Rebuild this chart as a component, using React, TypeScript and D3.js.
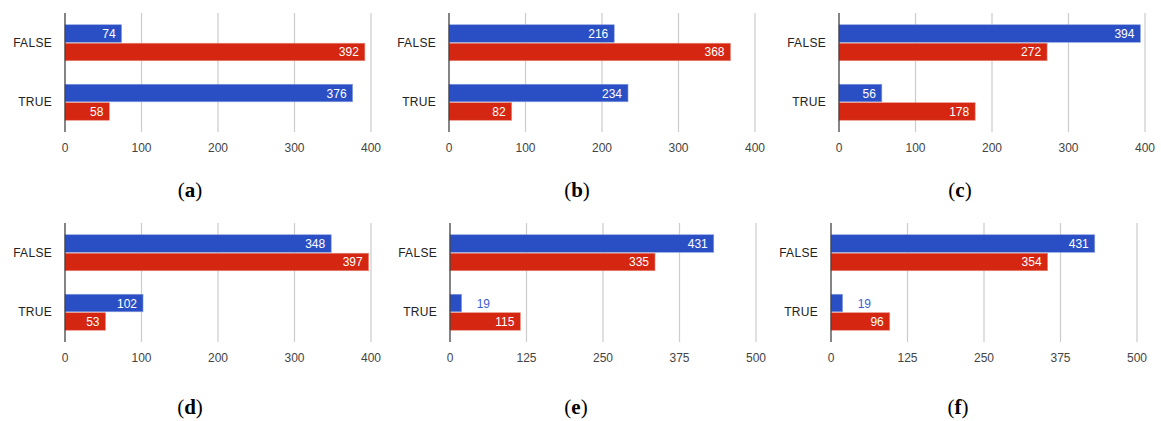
import React from "react";
import * as d3 from "d3";

const categories = ["FALSE", "TRUE"];
const seriesNames = ["blue", "red"];
const panelLabels = ["a", "b", "c", "d", "e", "f"];

// values per panel, indexed by category
const blueValues = [
  [74, 376],
  [216, 234],
  [394, 56],
  [348, 102],
  [431, 19],
  [431, 19],
];
const redValues = [
  [392, 58],
  [368, 82],
  [272, 178],
  [397, 53],
  [335, 115],
  [354, 96],
];
const ticksSmall = [0, 100, 200, 300, 400];
const ticksLarge = [0, 125, 250, 375, 500];
const panelTicks = [ticksSmall, ticksSmall, ticksSmall, ticksSmall, ticksLarge, ticksLarge];

// layout
const W = 1161;
const H = 421;
const plotW = 306;
const plotH = 119;
const originsX = [65, 449, 839, 65, 450, 831];
const rowTops = [13, 13, 13, 223, 223, 223];
const captionX = [190, 577, 960, 190, 576, 958];
const captionY = [197, 197, 197, 414, 414, 414];

const BLUE = "#2a4fc5";
const RED = "#d42611";
const font = "'Liberation Sans', Arial, sans-serif";

const Panel = ({ idx }: { idx: number }) => {
  const ticks = panelTicks[idx];
  const x0 = originsX[idx];
  const top = rowTops[idx];
  const x = d3.scaleLinear().domain([0, ticks[ticks.length - 1]]).range([x0, x0 + plotW]);
  const y = d3
    .scaleBand<string>()
    .domain(categories)
    .range([top, top + plotH])
    .paddingInner(0.395)
    .paddingOuter(0.1975);
  const ySub = d3.scaleBand<string>().domain(seriesNames).range([0, y.bandwidth()]).paddingInner(0.05);
  const series = [blueValues[idx], redValues[idx]];
  const colors = [BLUE, RED];

  return (
    <g>
      {ticks.map((t) => (
        <g key={t}>
          {t !== 0 && (
            <line x1={x(t)} x2={x(t)} y1={top} y2={top + plotH} stroke="#cccccc" strokeWidth={1.2} />
          )}
          <text x={x(t)} y={top + plotH + 20} textAnchor="middle" fontSize={12} fill="#444" fontFamily={font}>
            {t}
          </text>
        </g>
      ))}
      {categories.map((c, ci) => (
        <g key={c}>
          <text
            x={x0 - 13}
            y={(y(c) as number) + y.bandwidth() / 2 + 4}
            textAnchor="end"
            fontSize={12}
            fill="#222"
            fontFamily={font}
            letterSpacing={0.3}
          >
            {c}
          </text>
          {series.map((vals, si) => {
            const v = vals[ci];
            const by = (y(c) as number) + (ySub(seriesNames[si]) as number);
            const bw = x(v) - x(0);
            const inside = bw > 30;
            return (
              <g key={si}>
                <rect
                  x={x(0)}
                  y={by}
                  width={bw}
                  height={ySub.bandwidth()}
                  fill={colors[si]}
                  stroke={si === 0 ? "#8aa0e0" : "#e8907f"}
                  strokeWidth={0.6}
                />
                <text
                  x={inside ? x(v) - 6 : x(v) + 15}
                  y={by + ySub.bandwidth() / 2 + 4.5}
                  textAnchor={inside ? "end" : "start"}
                  fontSize={12}
                  fill={inside ? "#ffffff" : "#3a5fd0"}
                  fontFamily={font}
                >
                  {v}
                </text>
              </g>
            );
          })}
        </g>
      ))}
      <line x1={x0} x2={x0} y1={top} y2={top + plotH} stroke="#333" strokeWidth={1.2} />
      <text
        x={captionX[idx]}
        y={captionY[idx]}
        textAnchor="middle"
        fontSize={21}
        fill="#000"
        fontFamily="'Liberation Serif', 'DejaVu Serif', serif"
      >
        (<tspan fontWeight="bold">{panelLabels[idx]}</tspan>)
      </text>
    </g>
  );
};

export default function App() {
  return (
    <svg
      width={W}
      height={H}
      style={{ position: "absolute", left: 0, top: 0, background: "#fff" }}
    >
      {panelLabels.map((_, i) => (
        <Panel key={i} idx={i} />
      ))}
    </svg>
  );
}
